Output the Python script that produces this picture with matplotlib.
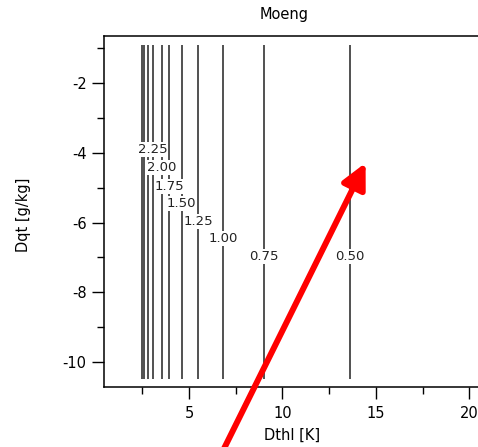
import matplotlib
matplotlib.use("Agg")
import matplotlib.pyplot as plt
from matplotlib.ticker import MultipleLocator

# contour lines (all vertical)
line_x = [2.47, 2.59, 2.82, 3.05, 3.53, 3.94, 4.60, 5.49, 6.82, 9.00, 13.59]
line_y = [-10.5, -0.9]

# labelled levels: value, x position, y position of the label
label_text = ["2.25", "2.00", "1.75", "1.50", "1.25", "1.00", "0.75", "0.50"]
label_x = [3.05, 3.53, 3.94, 4.60, 5.49, 6.82, 9.00, 13.59]
label_y = [-3.90, -4.42, -4.96, -5.45, -5.97, -6.46, -6.98, -6.98]

# red arrow drawn over the plot
arrow_tail = (6.57, -12.81)
arrow_tip = (14.45, -4.29)

plt.rcParams['font.family'] = ['DejaVu Sans']
plt.rcParams['axes.unicode_minus'] = False

fig = plt.figure(figsize=(4.78, 4.47), dpi=100)
ax = fig.add_axes([104 / 478, 60 / 447, 384 / 478, 351 / 447])

ax.vlines(line_x, line_y[0], line_y[1], colors='#333333', linewidth=1.2)
for t, x, y in zip(label_text, label_x, label_y):
    ax.text(x, y, t, ha='center', va='center', fontsize=9.5, color='#222222',
            bbox=dict(facecolor='white', edgecolor='none', pad=0.6))

ax.set_xlim(0.45, 21.0)
ax.set_ylim(-10.717, -0.652)
ax.xaxis.set_major_locator(MultipleLocator(5))
ax.xaxis.set_minor_locator(MultipleLocator(2.5))
ax.yaxis.set_major_locator(MultipleLocator(2))
ax.yaxis.set_minor_locator(MultipleLocator(1))
ax.tick_params(which='major', direction='out', length=8.5, width=1, labelsize=10.5, pad=4)
ax.tick_params(which='minor', direction='out', length=5, width=1)
ax.tick_params(axis='x', which='major', pad=5)
for s in ax.spines.values():
    s.set_linewidth(1.1)

ax.set_title('Moeng', fontsize=10.5, pad=12, x=0.47)
ax.set_xlabel('Dthl [K]', fontsize=10.5)
ax.xaxis.set_label_coords(0.49, -0.115)
ax.set_ylabel('Dqt [g/kg]', fontsize=10.5)
ax.yaxis.set_label_coords(-0.19, 0.49)

ax.annotate('', xy=arrow_tip, xytext=arrow_tail, xycoords='data',
            annotation_clip=False,
            arrowprops=dict(arrowstyle='-|>,head_length=1.5,head_width=0.75',
                            color='#ff0000', lw=4.3, mutation_scale=10,
                            shrinkA=0, shrinkB=0))

fig.savefig('out.png', dpi=100)
